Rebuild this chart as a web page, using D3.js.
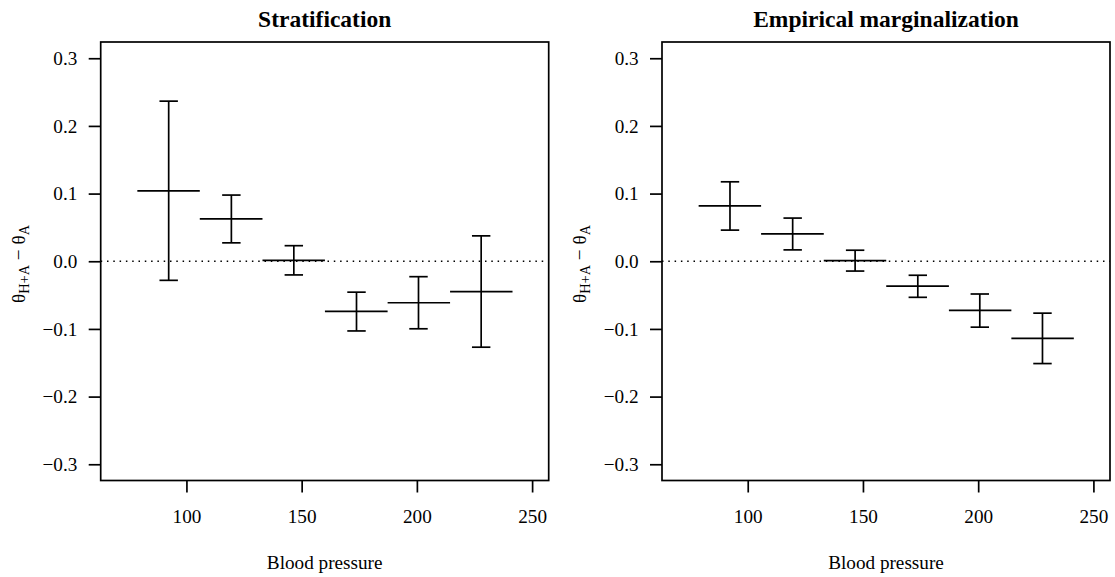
<!DOCTYPE html>
<html>
    <head>
        <meta charset="utf-8">
        <title> D3.js </title>
        <script src="https://d3js.org/d3.v7.min.js"></script>
        <style>
            body { margin: 0; background: #fff; }
        </style>
    </head>

    <body>
        <svg id="mainsvg" width="1115" height="577"></svg>

        <script>

            // ----------Data----------//

            // blood pressure bins (lower edge, upper edge, middle)
            const binLo  = [78.7, 105.8, 133.0, 160.1, 187.3, 214.4];
            const binHi  = [105.8, 133.0, 160.1, 187.3, 214.4, 241.5];
            const binMid = [92.3, 119.5, 146.6, 173.8, 200.7, 227.9];

            // stratification estimates and intervals
            const stratEst = [0.1040, 0.0625, 0.0013, -0.0740, -0.0613, -0.0450];
            const stratLow = [-0.0282, 0.0272, -0.0202, -0.1030, -0.0998, -0.1270];
            const stratHigh = [0.2366, 0.0978, 0.0230, -0.0457, -0.0228, 0.0375];

            // empirical marginalization estimates and intervals
            const margEst = [0.0817, 0.0406, 0.0010, -0.0367, -0.0727, -0.1140];
            const margLow = [0.0460, 0.0168, -0.0145, -0.0533, -0.0974, -0.1512];
            const margHigh = [0.1174, 0.0638, 0.0163, -0.0207, -0.0484, -0.0767];

            const xTicks = [100, 150, 200, 250];
            const yTicks = [-0.3, -0.2, -0.1, 0.0, 0.1, 0.2, 0.3];
            const panelTitles = ["Stratification", "Empirical marginalization"];
            const xLabel = "Blood pressure";

            // ----------Layout----------//

            const svg = d3.select("#mainsvg");
            const font = "'Liberation Serif', 'Times New Roman', serif";
            const plotW = 448, plotH = 438.5;
            const plotTop = 42;
            const panelLeft = [100.7, 662];
            const capHalf = 4;   // half width of the interval caps, in x units
            const lw = 1.7;

            // R style: limits extended by 4%
            const xScale = d3.scaleLinear().domain([62.8, 257.2]).range([0, plotW]);
            const yScale = d3.scaleLinear().domain([-0.324, 0.324]).range([plotH, 0]);

            const fmtY = d => d3.format(".1f")(d).replace("-", "\u2212");

            const panels = [
                {est: stratEst, low: stratLow, high: stratHigh},
                {est: margEst, low: margLow, high: margHigh}
            ];

            panels.forEach(function(p, k) {
                const g = svg.append("g")
                    .attr("transform", `translate(${panelLeft[k]}, ${plotTop})`);

                const rows = binMid.map((m, i) => ({
                    mid: m, lo: binLo[i], hi: binHi[i],
                    est: p.est[i], low: p.low[i], high: p.high[i]
                }));

                // reference line at zero
                g.append("line")
                    .attr("x1", 0).attr("x2", plotW)
                    .attr("y1", yScale(0)).attr("y2", yScale(0))
                    .attr("stroke", "black")
                    .attr("stroke-width", 1.5)
                    .attr("stroke-dasharray", "1.5,4.8");

                // horizontal bars across each bin
                g.selectAll(".bin").data(rows).join("line")
                    .attr("class", "bin")
                    .attr("x1", d => xScale(d.lo)).attr("x2", d => xScale(d.hi))
                    .attr("y1", d => yScale(d.est)).attr("y2", d => yScale(d.est))
                    .attr("stroke", "black").attr("stroke-width", lw);

                // vertical interval
                g.selectAll(".ci").data(rows).join("line")
                    .attr("class", "ci")
                    .attr("x1", d => xScale(d.mid)).attr("x2", d => xScale(d.mid))
                    .attr("y1", d => yScale(d.low)).attr("y2", d => yScale(d.high))
                    .attr("stroke", "black").attr("stroke-width", lw);

                // caps
                ["low", "high"].forEach(function(key) {
                    g.selectAll(".cap-" + key).data(rows).join("line")
                        .attr("class", "cap-" + key)
                        .attr("x1", d => xScale(d.mid - capHalf)).attr("x2", d => xScale(d.mid + capHalf))
                        .attr("y1", d => yScale(d[key])).attr("y2", d => yScale(d[key]))
                        .attr("stroke", "black").attr("stroke-width", lw);
                });

                // box
                g.append("rect")
                    .attr("x", 0).attr("y", 0)
                    .attr("width", plotW).attr("height", plotH)
                    .attr("fill", "none")
                    .attr("stroke", "black").attr("stroke-width", lw);

                // axes
                const yAxisG = g.append("g")
                    .call(d3.axisLeft(yScale).tickValues(yTicks).tickFormat(fmtY)
                        .tickSize(12).tickPadding(11.4));
                const xAxisG = g.append("g")
                    .attr("transform", `translate(0, ${plotH})`)
                    .call(d3.axisBottom(xScale).tickValues(xTicks).tickSize(12));

                [yAxisG, xAxisG].forEach(function(a) {
                    a.select(".domain").remove();
                    a.attr("font-family", font).attr("font-size", 19.2);
                    a.selectAll(".tick line").attr("stroke-width", lw);
                    a.selectAll(".tick text").attr("fill", "black");
                });
                xAxisG.selectAll(".tick text").attr("y", 42.2).attr("dy", 0);

                // title
                g.append("text")
                    .attr("x", plotW / 2).attr("y", 27 - plotTop)
                    .attr("text-anchor", "middle")
                    .attr("font-family", font)
                    .attr("font-size", 23.5)
                    .attr("font-weight", "bold")
                    .text(panelTitles[k]);

                // x label
                g.append("text")
                    .attr("x", plotW / 2).attr("y", 569 - plotTop)
                    .attr("text-anchor", "middle")
                    .attr("font-family", font)
                    .attr("font-size", 19.2)
                    .text(xLabel);

                // y label: theta_{H+A} - theta_A
                const yl = g.append("text")
                    .attr("transform", `translate(${25 - panelLeft[0]}, ${264 - plotTop}) rotate(-90)`)
                    .attr("text-anchor", "middle")
                    .attr("font-family", font)
                    .attr("font-size", 19.2);
                yl.append("tspan").text("\u03b8");
                yl.append("tspan").attr("font-size", 14.4).attr("dy", 3.5).text("H+A");
                yl.append("tspan").attr("dy", -3.5).text(" \u2212 \u03b8");
                yl.append("tspan").attr("font-size", 14.4).attr("dy", 3.5).text("A");
            });
        </script>
    </body>
</html>
